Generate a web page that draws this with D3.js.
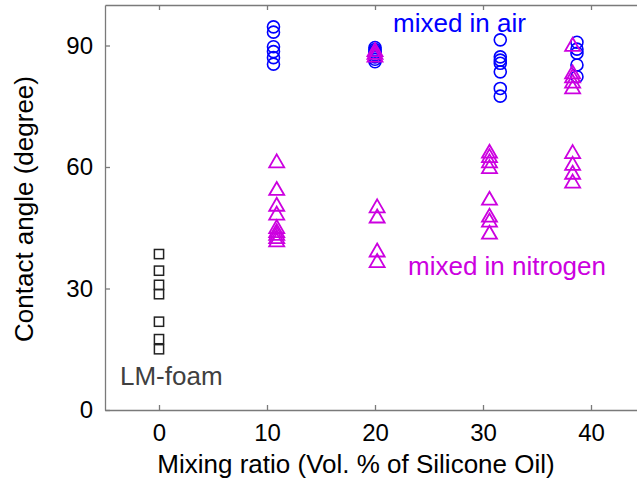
<!DOCTYPE html>
<html>
<head>
<meta charset="utf-8">
<script src="https://cdn.jsdelivr.net/npm/d3@7"></script>
<style>
  html, body { margin: 0; padding: 0; background: #fff; }
  svg { display: block; font-family: "Liberation Sans", Arial, Helvetica, sans-serif; }
</style>
</head>
<body>
<svg id="chart" width="637" height="482"></svg>
<script>
// Contact angle versus silicone oil mixing ratio

// LM-foam (no silicone oil)
const foamRatio = [0, 0, 0, 0, 0, 0, 0];
const foamAngle = [38.5, 34.4, 30.9, 28.6, 21.8, 17.5, 15.0];

// Mixed in air
const airRatio = [
  10.6, 10.6, 10.6, 10.6, 10.6, 10.6,
  20.0, 20.0, 20.0, 20.0, 20.0, 20.0, 20.0, 20.0,
  31.6, 31.6, 31.6, 31.6, 31.6, 31.6, 31.6,
  38.7, 38.7, 38.7, 38.7, 38.7
];
const airAngle = [
  94.6, 93.3, 89.7, 88.5, 87.0, 85.4,
  89.5, 89.0, 88.6, 88.2, 87.7, 87.2, 86.6, 86.0,
  91.4, 87.2, 86.4, 85.6, 83.5, 79.4, 77.5,
  90.8, 89.1, 88.1, 85.2, 82.3
];

// Mixed in nitrogen
const n2Ratio = [
  10.9, 10.9, 10.9, 10.9, 10.9, 10.9, 10.9, 10.9, 10.9,
  20.0, 20.0, 20.0, 20.2, 20.2, 20.2, 20.2,
  30.6, 30.6, 30.6, 30.6, 30.6, 30.6, 30.6, 30.6,
  38.3, 38.3, 38.3, 38.3, 38.3, 38.3, 38.3, 38.3, 38.3
];
const n2Angle = [
  61.5, 54.7, 50.8, 48.6, 45.3, 44.3, 43.6, 42.8, 42.0,
  89.0, 88.3, 87.6, 50.4, 47.9, 39.5, 36.9,
  63.9, 62.8, 61.5, 60.1, 52.3, 48.1, 46.9, 43.9,
  90.3, 83.5, 82.5, 81.2, 79.8, 63.8, 60.9, 58.7, 56.5
];

const xTicks = [0, 10, 20, 30, 40];
const yTicks = [0, 30, 60, 90];

const svg = d3.select("#chart");
const plotLeft = 105, plotRight = 645, plotTop = 5, plotBottom = 410;

const x = d3.scaleLinear().domain([-5, 45]).range([plotLeft, plotRight]);
const y = d3.scaleLinear().domain([0, 100]).range([plotBottom, plotTop]);

const axisColor = "#7a7a7a";
const magenta = "#cc00e0";

// Axes box (bottom / left with labels, top without)
const gx = svg.append("g").attr("transform", `translate(0,${plotBottom})`)
  .call(d3.axisBottom(x).tickValues(xTicks).tickSizeInner(-5).tickSizeOuter(0).tickPadding(14));
const gxTop = svg.append("g").attr("transform", `translate(0,${plotTop})`)
  .call(d3.axisTop(x).tickValues(xTicks).tickSizeInner(-5).tickSizeOuter(0).tickFormat(""));
const gy = svg.append("g").attr("transform", `translate(${plotLeft},0)`)
  .call(d3.axisLeft(y).tickValues(yTicks).tickSizeInner(-5).tickSizeOuter(0).tickPadding(12));

[gx, gxTop, gy].forEach(g => {
  g.select(".domain").attr("stroke", axisColor).attr("stroke-width", 1.3);
  g.selectAll(".tick line").attr("stroke", axisColor).attr("stroke-width", 1.3);
  g.selectAll(".tick text").attr("fill", "#000").attr("font-size", 24)
    .attr("font-family", "'Liberation Sans', Arial, sans-serif");
});
gx.selectAll(".tick text").attr("dy", "0.71em");

// Markers
const sq = 4.6;
svg.append("g").selectAll("rect").data(foamAngle).join("rect")
  .attr("x", (d, i) => x(foamRatio[i]) - sq)
  .attr("y", d => y(d) - sq)
  .attr("width", sq * 2).attr("height", sq * 2)
  .attr("fill", "none").attr("stroke", "#222").attr("stroke-width", 1.5);

svg.append("g").selectAll("circle").data(airAngle).join("circle")
  .attr("cx", (d, i) => x(airRatio[i]))
  .attr("cy", d => y(d))
  .attr("r", 6)
  .attr("fill", "none").attr("stroke", "#0000ff").attr("stroke-width", 1.6);

const tw = 7.5, th = 6.5;
svg.append("g").selectAll("path").data(n2Angle).join("path")
  .attr("transform", (d, i) => `translate(${x(n2Ratio[i])},${y(d)})`)
  .attr("d", `M0,${-th}L${tw},${th}L${-tw},${th}Z`)
  .attr("fill", "none").attr("stroke", magenta).attr("stroke-width", 1.8)
  .attr("stroke-linejoin", "miter");

// Annotations
const font = 26;
svg.append("text").attr("x", 393).attr("y", 32).attr("font-size", font)
  .attr("fill", "#0000ff").text("mixed in air");
svg.append("text").attr("x", 408).attr("y", 275).attr("font-size", font)
  .attr("fill", magenta).text("mixed in nitrogen");
svg.append("text").attr("x", 120).attr("y", 385).attr("font-size", font)
  .attr("fill", "#404040").text("LM-foam");

// Axis titles
svg.append("text").attr("x", 356).attr("y", 473).attr("text-anchor", "middle")
  .attr("font-size", font).attr("fill", "#000")
  .text("Mixing ratio (Vol. % of Silicone Oil)");
svg.append("text").attr("transform", "translate(33,209) rotate(-90)")
  .attr("text-anchor", "middle").attr("font-size", font).attr("fill", "#000")
  .text("Contact angle (degree)");
</script>
</body>
</html>
